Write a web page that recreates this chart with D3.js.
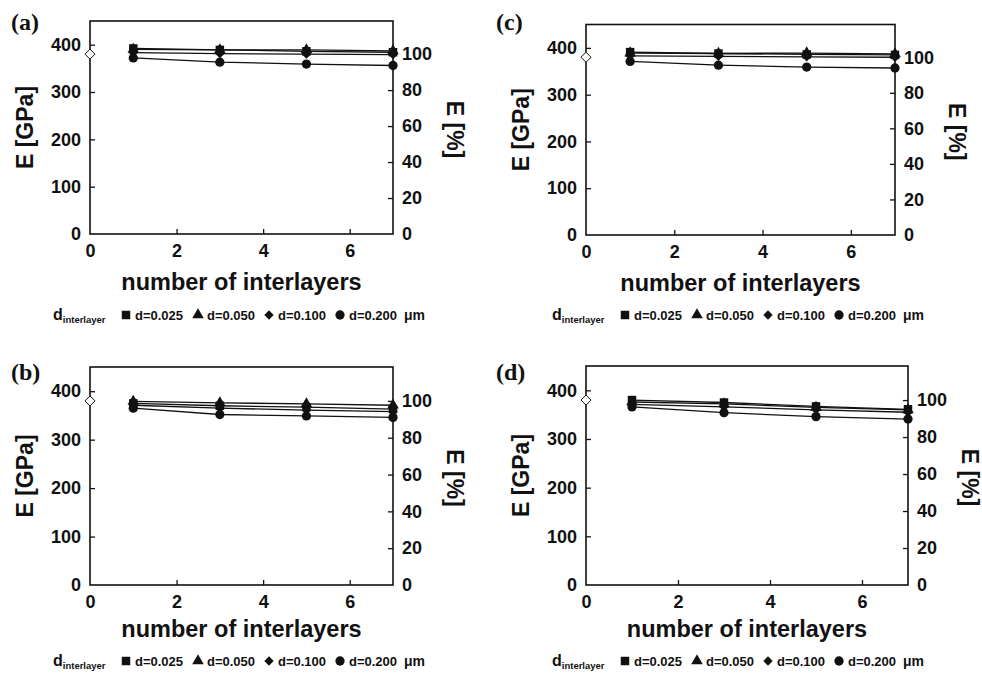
<!DOCTYPE html>
<html><head><meta charset="utf-8">
<script src="https://cdn.jsdelivr.net/npm/d3@7"></script>
<style>
body{margin:0;background:#fff;}
text{font-weight:bold;fill:#111;}
</style></head>
<body><svg id="chart" width="982" height="676"></svg>
<script>
// ---- data ----
const xValues = [1, 3, 5, 7];
const seriesNames = ["d=0.025", "d=0.050", "d=0.100", "d=0.200"];
const referenceX = 0;
const referenceE = 380;
const leftTicks = [0, 100, 200, 300, 400];
const rightTicks = [0, 20, 40, 60, 80, 100];
const xTicks = [0, 2, 4, 6];
const panelLabels = ["(a)", "(b)", "(c)", "(d)"];

// panel (a)
const a025 = [392, 389, 386, 384];
const a050 = [390, 389, 389, 387];
const a100 = [383, 381, 380, 379];
const a200 = [372, 363, 359, 356];
// panel (b)
const b025 = [375, 370, 367, 363];
const b050 = [379, 376, 374, 371];
const b100 = [371, 365, 361, 358];
const b200 = [365, 352, 349, 346];
// panel (c)
const c025 = [391, 388, 386, 385];
const c050 = [389, 388, 389, 387];
const c100 = [383, 382, 381, 380];
const c200 = [371, 363, 359, 357];
// panel (d)
const d025 = [380, 375, 367, 361];
const d050 = [376, 372, 365, 360];
const d100 = [371, 366, 360, 355];
const d200 = [366, 354, 346, 341];

// ---- layout ----
const SANS = "'Liberation Sans', Arial, Helvetica, sans-serif";
const SERIF = "'Liberation Serif', 'Times New Roman', serif";
const layout = [
  {left:90, right:393, top:21, bottom:234, lx:11, ly:30, tb:290, legX:53, legY:320, data:[a025,a050,a100,a200]},
  {left:90, right:393, top:367, bottom:585, lx:11, ly:380, tb:637, legX:53, legY:666, data:[b025,b050,b100,b200]},
  {left:586, right:895, top:24.5, bottom:235, lx:496, ly:30, tb:291, legX:552, legY:320, data:[c025,c050,c100,c200]},
  {left:586, right:908, top:366, bottom:585, lx:496, ly:380, tb:637, legX:552, legY:666, data:[d025,d050,d100,d200]}
];

const diamond = d3.symbolDiamond2 || {draw(ctx, size){const r=Math.sqrt(size/2);ctx.moveTo(0,-r);ctx.lineTo(r,0);ctx.lineTo(0,r);ctx.lineTo(-r,0);ctx.closePath();}};
const symbols = [d3.symbolSquare, d3.symbolTriangle, diamond, d3.symbolCircle];
const sizes = [72, 58, 56, 68];

const svg = d3.select("#chart");

layout.forEach((p, i) => {
  const g = svg.append("g");
  const x = d3.scaleLinear().domain([0, 7]).range([p.left, p.right]);
  const y = d3.scaleLinear().domain([0, 450]).range([p.bottom, p.top]);
  const y2 = d3.scaleLinear().domain([0, 450 / referenceE * 100]).range([p.bottom, p.top]);

  // axes
  const ax = g.append("g").attr("transform", `translate(0,${p.bottom})`)
    .call(d3.axisBottom(x).tickValues(xTicks).tickFormat(d3.format("d")).tickSizeInner(-5).tickSizeOuter(0).tickPadding(10));
  const ay = g.append("g").attr("transform", `translate(${p.left},0)`)
    .call(d3.axisLeft(y).tickValues(leftTicks).tickFormat(d3.format("d")).tickSizeInner(-5).tickSizeOuter(0).tickPadding(9));
  const ay2 = g.append("g").attr("transform", `translate(${p.right},0)`)
    .call(d3.axisRight(y2).tickValues(rightTicks).tickFormat(d3.format("d")).tickSizeInner(-5).tickSizeOuter(0).tickPadding(9));
  [ax, ay, ay2].forEach(a => {
    a.select(".domain").remove();
    a.selectAll(".tick line").attr("stroke", "#111").attr("stroke-width", 1.3);
    a.selectAll(".tick text").style("font-size", "18px").style("font-family", SANS).style("font-weight", "bold").attr("fill", "#111");
  });
  ax.selectAll(".tick line").filter(d => d === 0).remove();
  ay.selectAll(".tick line").filter(d => d === 0).remove();
  ay2.selectAll(".tick line").filter(d => d === 0).remove();

  // box
  g.append("rect").attr("x", p.left).attr("y", p.top)
    .attr("width", p.right - p.left).attr("height", p.bottom - p.top)
    .attr("fill", "none").attr("stroke", "#111").attr("stroke-width", 1.6);

  // lines + markers
  p.data.forEach((vals) => {
    const pts = xValues.map((xv, k) => [xv, vals[k]]);
    g.append("path").datum(pts)
      .attr("d", d3.line().x(d => x(d[0])).y(d => y(d[1])))
      .attr("fill", "none").attr("stroke", "#111").attr("stroke-width", 1.3);
  });
  p.data.forEach((vals, s) => {
    g.selectAll(null).data(xValues.map((xv, k) => [xv, vals[k]])).enter()
      .append("path")
      .attr("d", d3.symbol().type(symbols[s]).size(sizes[s]))
      .attr("transform", d => `translate(${x(d[0])},${y(d[1])})`)
      .attr("fill", "#111");
  });

  // reference open diamond
  g.append("path")
    .attr("d", d3.symbol().type(diamond).size(64))
    .attr("transform", `translate(${x(referenceX)},${y(referenceE)})`)
    .attr("fill", "#fff").attr("stroke", "#111").attr("stroke-width", 1);

  // titles
  const cy = (p.top + p.bottom) / 2;
  const t = (sel, size, fam) => sel.style("font-size", size + "px").style("font-family", fam || SANS).style("font-weight", "bold");
  t(g.append("text").attr("transform", `translate(${p.left - 57},${cy}) rotate(-90)`)
    .attr("text-anchor", "middle").text("E [GPa]"), 23);
  t(g.append("text").attr("transform", `translate(${p.right + 54},${cy + 2}) rotate(90)`)
    .attr("text-anchor", "middle").text("E [%]"), 23);
  t(g.append("text").attr("x", (p.left + p.right) / 2).attr("y", p.tb)
    .attr("text-anchor", "middle").text("number of interlayers"), 23.5);
  t(g.append("text").attr("x", p.lx).attr("y", p.ly).text(panelLabels[i]), 24, SERIF);

  // legend
  const lg = g.append("g");
  const lt = t(lg.append("text").attr("x", p.legX).attr("y", p.legY), 16);
  lt.append("tspan").text("d");
  lt.append("tspan").style("font-size", "9.5px").attr("dy", 3).text("interlayer");
  const offs = [73, 145, 216, 287];
  seriesNames.forEach((nm, s) => {
    lg.append("path").attr("d", d3.symbol().type(symbols[s]).size(sizes[s]))
      .attr("transform", `translate(${p.legX + offs[s]},${p.legY - 5})`).attr("fill", "#111");
    t(lg.append("text").attr("x", p.legX + offs[s] + 9).attr("y", p.legY).text(nm), 13);
  });
  t(lg.append("text").attr("x", p.legX + 351).attr("y", p.legY).text("μm"), 14);
});
</script></body></html>
